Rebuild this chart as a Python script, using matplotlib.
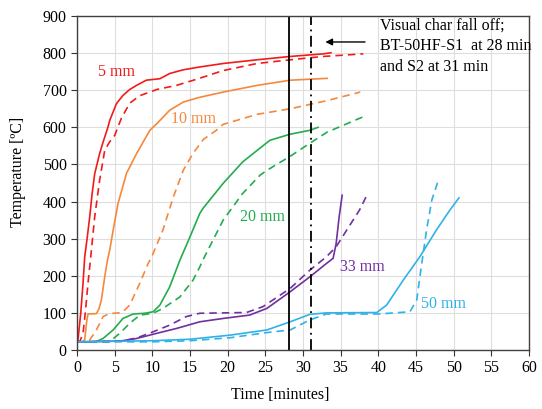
import matplotlib
matplotlib.use("Agg")
import matplotlib.pyplot as plt

plt.rcParams['font.family'] = ['Liberation Serif', 'DejaVu Serif']

# time [min] / temperature [C], S1 = solid, S2 = dashed
t5_s1 = [0, 0.13, 0.5, 0.8, 1.02, 1.4, 1.69, 2.0, 2.35, 3.0, 3.46, 4.1, 4.35, 5.24, 6.1, 7.0, 7.9,
         9.2, 11.0, 12.3, 14.1, 16.1, 19.4, 23.9, 28.3, 32.7, 33.7]
T5_s1 = [22, 27, 100, 180, 250, 310, 359, 420, 475, 529, 560, 600, 619, 664, 686, 702, 713,
         727, 731, 745, 755, 762, 772, 782, 791, 798, 801]
t5_s2 = [0, 0.4, 0.8, 1.1, 1.46, 1.78, 2.35, 3.0, 3.68, 4.3, 5.0, 5.9, 7.0, 8.3, 10.6, 13.2,
         16.1, 19.4, 23.9, 28.3, 32.7, 38.0]
T5_s2 = [22, 24, 45, 100, 180, 242, 359, 457, 538, 560, 578, 625, 665, 685, 702, 713,
         731, 753, 772, 782, 791, 798]

t10_s1 = [0, 0.7, 1.02, 1.3, 1.46, 2.58, 2.9, 3.24, 3.68, 4.04, 4.35, 4.8, 5.45, 6.57, 7.9,
          9.67, 10.6, 12.3, 14.1, 16.1, 19.4, 23.9, 28.3, 33.2]
T10_s1 = [22, 22, 27, 80, 97, 98, 110, 135, 197, 242, 270, 323, 395, 476, 529,
          592, 610, 646, 668, 680, 695, 713, 727, 732]
t10_s2 = [0, 1.2, 1.69, 2.58, 3.46, 4.3, 5.5, 6.1, 7.0, 8.34, 9.44, 9.9, 11.4, 12.8, 14.1,
          15.4, 16.8, 18.5, 19.4, 23.9, 28.3, 33.2, 37.6]
T10_s2 = [22, 22, 27, 54, 90, 98, 100, 103, 121, 180, 233, 250, 323, 413, 484,
          530, 568, 592, 608, 635, 650, 672, 695]

t20_s1 = [0, 2.5, 3.46, 4.8, 6.1, 7.45, 9.0, 10.1, 11.0, 12.3, 13.66, 15.0, 16.3, 16.7, 19.4,
          22.0, 25.6, 28.2, 30.9, 32.0]
T20_s1 = [22, 22, 31, 54, 85, 97, 99, 103, 121, 170, 242, 305, 368, 381, 449,
          507, 565, 581, 592, 600]
t20_s2 = [0, 4.3, 5.68, 7.0, 8.34, 10.1, 11.4, 13.66, 15.4, 16.3, 16.7, 19.4, 22.0, 24.3, 25.2,
          28.3, 30.9, 33.2, 38.4]
T20_s2 = [22, 22, 45, 72, 94, 99, 112, 143, 188, 224, 242, 350, 422, 471, 484,
          522, 557, 587, 632]

t33_s1 = [0, 5.7, 7.9, 10.6, 13.2, 16.3, 19.4, 22.9, 25.2, 28.3, 30.9, 33.1, 34.0, 34.4, 34.8, 35.2]
T33_s1 = [22, 24, 31, 45, 58, 76, 85, 94, 112, 157, 197, 233, 247, 287, 359, 417]
t33_s2 = [0, 6, 8, 10.1, 12.3, 14.5, 16.3, 22.5, 24.7, 28.3, 30.9, 33.1, 34.4, 35.8, 37.5, 38.6]
T33_s2 = [22, 24, 33, 49, 67, 90, 99, 101, 117, 166, 215, 251, 278, 323, 377, 422]

t50_s1 = [0, 10, 15, 20.3, 25.2, 28.3, 30.9, 33.1, 39.8, 41.1, 43.3, 45.5, 47.7, 49.5, 50.7]
T50_s1 = [22, 25, 29, 40, 54, 76, 96, 100, 101, 121, 188, 251, 323, 377, 410]
t50_s2 = [0, 10, 15, 20.3, 25.2, 28.3, 30.9, 33.1, 40, 44.2, 45.1, 45.7, 46.4, 47.1, 47.9]
T50_s2 = [22, 22, 25, 33, 47, 54, 81, 97, 97, 103, 135, 224, 323, 404, 453]

depths = ['5 mm', '10 mm', '20 mm', '33 mm', '50 mm']
colors = ['#F21B1B', '#F5883C', '#22AD4E', '#7030A0', '#2FB2E8']
label_pos = [(5.2, 749), (15.4, 623), (24.6, 359), (37.9, 224), (48.7, 124)]

fall_off = [28.2, 31.1]

solid = [(t5_s1, T5_s1), (t10_s1, T10_s1), (t20_s1, T20_s1), (t33_s1, T33_s1), (t50_s1, T50_s1)]
dashed = [(t5_s2, T5_s2), (t10_s2, T10_s2), (t20_s2, T20_s2), (t33_s2, T33_s2), (t50_s2, T50_s2)]

fig = plt.figure(figsize=(5.42, 4.09), dpi=100)
ax = fig.add_axes([77 / 542, 1 - 350 / 409, 452 / 542, 334 / 409])

for (ts, Ts), (td, Td), c, name, pos in zip(solid, dashed, colors, depths, label_pos):
    ax.plot(ts, Ts, color=c, lw=1.2)
    ax.plot(td, Td, color=c, lw=1.2, linestyle=(0, (4.5, 3)))
    ax.text(pos[0], pos[1], name, color=c, fontsize=11.5, ha='center', va='center')

ax.axvline(fall_off[0], color='black', lw=1.3)
ax.axvline(fall_off[1], color='black', lw=1.3, linestyle=(0, (6, 2.5, 1, 2.5)))

ax.annotate('', xy=(32.6, 830), xytext=(38.6, 830),
            arrowprops=dict(arrowstyle='-|>', color='black', lw=1.0, mutation_scale=10))
ax.text(40.2, 819, 'Visual char fall off;\nBT-50HF-S1  at 28 min\nand S2 at 31 min',
        fontsize=11.5, ha='left', va='center', linespacing=1.4)

ax.set_xlim(0, 60)
ax.set_ylim(0, 900)
ax.set_xticks(range(0, 61, 5))
ax.set_yticks(range(0, 901, 100))
ax.grid(True, color='#dedede', lw=0.8)
ax.set_axisbelow(True)
ax.tick_params(direction='out', length=4, labelsize=11.5, color='#333333')
for s in ax.spines.values():
    s.set_color('#404040')
    s.set_linewidth(1.0)

ax.set_xlabel('Time [minutes]', fontsize=11.5)
ax.set_ylabel('Temperature [ºC]', fontsize=11.5)
ax.xaxis.set_label_coords(0.449, -0.112)
ax.yaxis.set_label_coords(-0.113, 0.533)

fig.savefig('out.png', dpi=100)
